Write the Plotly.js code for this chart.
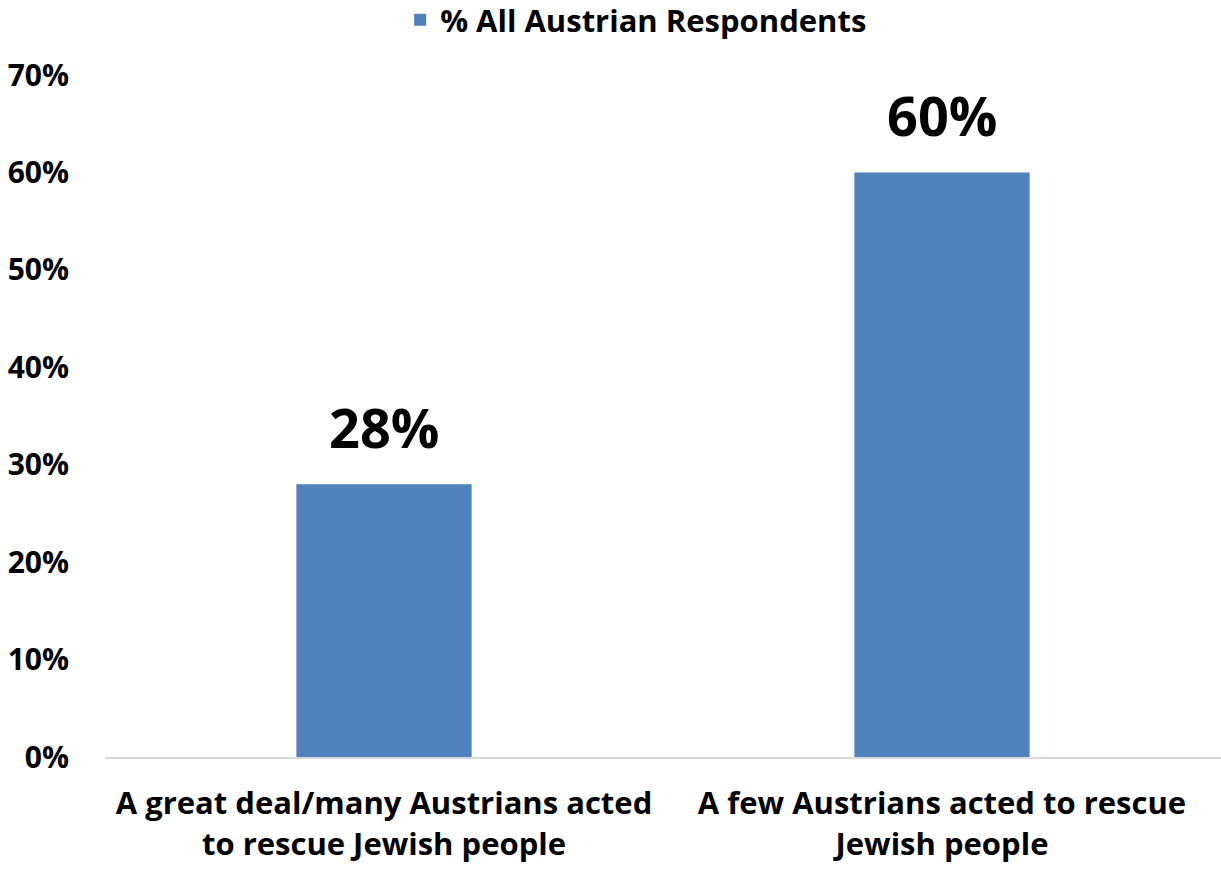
<!DOCTYPE html>
<html>
<head>
<meta charset="utf-8">
<script src="https://cdn.plot.ly/plotly-3.0.1.min.js"></script>
<style>html,body{margin:0;padding:0;background:#fff;}#chart{width:1221px;height:869px;}</style>
</head>
<body>
<div id="chart"></div>
<script>
var categories = ["A great deal/many Austrians acted<br>to rescue Jewish people", "A few Austrians acted to rescue<br>Jewish people"];
var values = [28, 60];
var labels = ["28%", "60%"];
var seriesName = "% All Austrian Respondents";
var yTickVals = [0, 10, 20, 30, 40, 50, 60, 70];
var yTickText = ["0%", "10%", "20%", "30%", "40%", "50%", "60%", "70%"];

var FONT = "'Open Sans', 'Noto Sans', sans-serif";

var trace = {
  type: "bar",
  x: categories,
  y: values,
  name: seriesName,
  marker: {color: "#4f81bd"},
  hoverinfo: "skip",
  showlegend: true
};

var annotations = categories.map(function (c, i) {
  return {
    x: c, y: values[i], xref: "x", yref: "y",
    text: labels[i], showarrow: false,
    xanchor: "center", yanchor: "bottom", yshift: 18,
    font: {family: FONT, size: 54, color: "#000", weight: 700}
  };
});

var layout = {
  width: 1221,
  height: 869,
  margin: {l: 105, r: 0, t: 75, b: 112, pad: 0},
  paper_bgcolor: "#fff",
  plot_bgcolor: "#fff",
  font: {family: FONT, color: "#000", weight: 700},
  bargap: 0.686,
  showlegend: true,
  legend: {
    orientation: "h",
    x: 0.521, xanchor: "center",
    xref: "container",
    y: 0.977, yanchor: "middle",
    yref: "container",
    font: {family: FONT, size: 31, color: "#000", weight: 700},
    bgcolor: "rgba(0,0,0,0)"
  },
  annotations: annotations,
  xaxis: {
    showgrid: false,
    zeroline: false,
    showline: true,
    linecolor: "#d9d9d9",
    linewidth: 2,
    ticks: "",
    ticklabelstandoff: 18,
    tickfont: {family: FONT, size: 31, color: "#000", weight: 700}
  },
  yaxis: {
    range: [0, 70],
    tickvals: yTickVals,
    ticktext: yTickText,
    showgrid: false,
    zeroline: false,
    showline: false,
    ticks: "",
    ticklabelstandoff: 35,
    tickfont: {family: FONT, size: 30, color: "#000", weight: 700}
  }
};

Plotly.newPlot("chart", [trace], layout, {displayModeBar: false, staticPlot: true});
</script>
</body>
</html>
